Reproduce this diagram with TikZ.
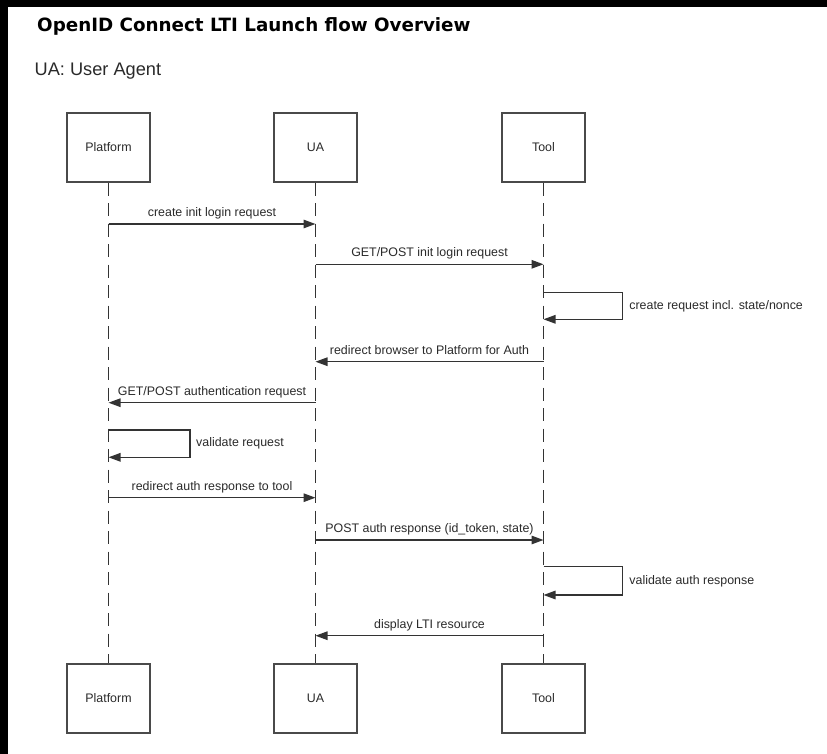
\documentclass[tikz,border=0pt]{standalone}
\usepackage{fontspec}
\setmainfont{Liberation Sans}
\newfontfamily\titlefont{DejaVu Sans}
\usetikzlibrary{arrows.meta}
\definecolor{ink}{HTML}{333333}
\definecolor{boxink}{HTML}{4A4A4A}
\definecolor{txt}{HTML}{2A2A2A}
\begin{document}
\begin{tikzpicture}[x=1pt,y=-1pt,
  actor/.style={draw=boxink, line width=1.4pt, fill=white, minimum width=83pt,
    minimum height=69pt, inner sep=0pt, font=\fontsize{12.4}{14}\selectfont, text=txt},
  lifeline/.style={draw=ink, line width=1.9pt, dash pattern=on 13pt off 7.5pt},
  msg/.style={draw=ink, line width=1.4pt, -{Triangle[length=12pt,width=8.5pt]}},
  msglabel/.style={font=\fontsize{12.4}{14}\selectfont, text=txt, anchor=base,
    inner sep=0pt, yshift=7.5pt},
  looplabel/.style={font=\fontsize{12.4}{14}\selectfont, text=txt, anchor=west,
    inner sep=0pt, xshift=6pt},
]
% canvas and dark frame strips
\useasboundingbox (0,0) rectangle (827,754);
\fill[white] (0,0) rectangle (827,754);
\fill[black] (0,0) rectangle (827,7);
\fill[black] (0,0) rectangle (8,754);

% headings
\node[anchor=base west, inner sep=0pt, font=\titlefont\bfseries\fontsize{18.3}{20}\selectfont]
  (title) at (37,31.8) {OpenID Connect LTI Launch flow Overview};
\node[anchor=base west, inner sep=0pt, text=txt, font=\fontsize{18.2}{20}\selectfont]
  (legend) at (34.5,76) {UA: User Agent};

% participants
\node[actor] (platTop) at (108.5,147.5) {Platform};
\node[actor] (uaTop)   at (315.5,147.5) {UA};
\node[actor] (toolTop) at (543.5,147.5) {Tool};
\node[actor] (platBot) at (108.5,698.5) {Platform};
\node[actor] (uaBot)   at (315.5,698.5) {UA};
\node[actor] (toolBot) at (543.5,698.5) {Tool};

% lifelines
\draw[lifeline] (platTop) -- (platBot);
\draw[lifeline] (uaTop) -- (uaBot);
\draw[lifeline] (toolTop) -- (toolBot);

% message end points on the lifelines
\coordinate (p1) at (108.5,224);   \coordinate (u1) at (315.5,224);
\coordinate (u2) at (315.5,264.3); \coordinate (t2) at (543.5,264.3);
\coordinate (t3a) at (543.5,292.3); \coordinate (t3b) at (543.5,319.3);
\coordinate (t4) at (543.5,361.7); \coordinate (u4) at (315.5,361.7);
\coordinate (u5) at (315.5,402.7); \coordinate (p5) at (108.5,402.7);
\coordinate (p6a) at (108.5,430);  \coordinate (p6b) at (108.5,457.3);
\coordinate (p7) at (108.5,497.7); \coordinate (u7) at (315.5,497.7);
\coordinate (u8) at (315.5,540); \coordinate (t8) at (543.5,540);
\coordinate (t9a) at (543.5,566.7); \coordinate (t9b) at (543.5,595);
\coordinate (t10) at (543.5,635.7); \coordinate (u10) at (315.5,635.7);

% messages
\draw[msg] (p1) -- node[msglabel] {create init login request} (u1);
\draw[msg] (u2) -- node[msglabel] {GET/POST init login request} (t2);
\draw[msg] (t3a) -- ++(79.2,0) |- node[pos=0.25, looplabel] {create request incl. state/nonce} (t3b);
\draw[msg] (t4) -- node[msglabel] {redirect browser to Platform for Auth} (u4);
\draw[msg] (u5) -- node[msglabel] {GET/POST authentication request} (p5);
\draw[msg] (p6a) -- ++(81.5,0) |- node[pos=0.25, looplabel, xshift=-0.5pt] {validate request} (p6b);
\draw[msg] (p7) -- node[msglabel] {redirect auth response to tool} (u7);
\draw[msg] (u8) -- node[msglabel] {POST auth response (id\_token, state)} (t8);
\draw[msg] (t9a) -- ++(79.2,0) |- node[pos=0.25, looplabel] {validate auth response} (t9b);
\draw[msg] (t10) -- node[msglabel] {display LTI resource} (u10);
\end{tikzpicture}
\end{document}
